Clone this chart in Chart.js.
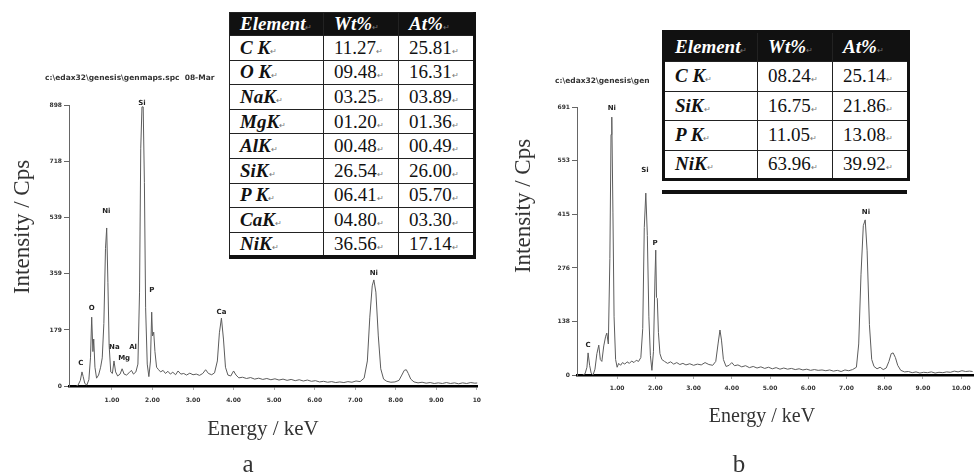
<!DOCTYPE html>
<html lang="en">
<head>
<meta charset="UTF-8">
<title>EDS spectra</title>
<style>
    body {
        margin: 0;
        background: #fff;
    }
    #page {
        position: relative;
        width: 977px;
        height: 473px;
        overflow: hidden;
        background: #fff;
    }
    canvas {
        position: absolute;
        top: 0;
    }
    .path {
        position: absolute;
        font: bold 7.5px "DejaVu Sans", sans-serif;
        color: #333;
        white-space: nowrap;
        overflow: hidden;
    }
    .title {
        position: absolute;
        font-family: "Liberation Serif", serif;
        color: #333;
        text-align: center;
        white-space: nowrap;
    }
    .ytitle {
        transform: rotate(-90deg);
    }
    table {
        position: absolute;
        border-collapse: collapse;
        table-layout: fixed;
        background: #fff;
        font-family: "Liberation Serif", serif;
        font-size: 19px;
        color: #111;
        z-index: 2;
    }
    td, th {
        border: 1px solid #222;
        padding: 0 0 0 10px;
        text-align: left;
        white-space: nowrap;
        overflow: hidden;
    }
    th {
        background: #111;
        color: #fff;
        font-style: italic;
        font-weight: bold;
    }
    td.el {
        font-style: italic;
        font-weight: bold;
    }
    .mark {
        font-size: 8px;
        color: #777;
        font-style: normal;
        font-weight: normal;
    }
    #tableA {
        left: 229px;
        top: 12px;
        border-right: 3px solid #111;
        border-bottom: 4px solid #111;
    }
    #tableB {
        left: 662px;
        top: 30px;
        border: 3px solid #111;
    }
    #ruleB {
        position: absolute;
        left: 662px;
        top: 190px;
        width: 245px;
        height: 4px;
        background: #111;
    }
    .side {
        position: absolute;
        left: 911px;
        font-size: 8px;
        color: #aaa;
    }
</style>
</head>
<body>
<div id="page">
    <canvas id="chartA" width="488" height="473" style="left:0"></canvas>
    <canvas id="chartB" width="487" height="473" style="left:490px"></canvas>

    <div class="path" style="left:45px; top:73px; width:183px;">c:\edax32\genesis\genmaps.spc&nbsp;&nbsp;08-Mar</div>
    <div class="path" style="left:555px; top:76px; width:101px;">c:\edax32\genesis\gen</div>

    <div class="title ytitle" style="left:-58px; top:213px; width:160px; font-size:23px; line-height:28px;">Intensity / Cps</div>
    <div class="title ytitle" style="left:443px; top:192px; width:160px; font-size:23px; line-height:28px;">Intensity / Cps</div>
    <div class="title" style="left:183px; top:415px; width:160px; font-size:21px; line-height:26px;">Energy / keV</div>
    <div class="title" style="left:682px; top:402px; width:160px; font-size:20px; line-height:26px;">Energy / keV</div>
    <div class="title" style="left:228px; top:449px; width:40px; font-size:25px; line-height:30px;">a</div>
    <div class="title" style="left:719px; top:449px; width:40px; font-size:25px; line-height:30px;">b</div>

    <table id="tableA"></table>
    <table id="tableB"></table>
    <div id="ruleB"></div>
</div>

<script src="https://cdn.jsdelivr.net/npm/chart.js"></script>
<script>
    // composition tables
    const tableHead = ['Element', 'Wt%', 'At%'];
    const elementsA = ['C K', 'O K', 'NaK', 'MgK', 'AlK', 'SiK', 'P K', 'CaK', 'NiK'];
    const wtA = ['11.27', '09.48', '03.25', '01.20', '00.48', '26.54', '06.41', '04.80', '36.56'];
    const atA = ['25.81', '16.31', '03.89', '01.36', '00.49', '26.00', '05.70', '03.30', '17.14'];
    const elementsB = ['C K', 'SiK', 'P K', 'NiK'];
    const wtB = ['08.24', '16.75', '11.05', '63.96'];
    const atB = ['25.14', '21.86', '13.08', '39.92'];

    // axis ticks
    const xTickValues = [1, 2, 3, 4, 5, 6, 7, 8, 9, 10];
    const yTicksA = [0, 179, 359, 539, 718, 898];
    const yTicksB = [0, 138, 276, 415, 553, 691];

    // spectrum a
    const energyA = [0.12, 0.16, 0.22, 0.26, 0.29, 0.33, 0.38, 0.43, 0.47, 0.50, 0.53, 0.55, 0.58, 0.62, 0.67,
        0.72, 0.76, 0.80, 0.84, 0.87, 0.90, 0.93, 0.97, 1.01, 1.05, 1.09, 1.14, 1.20, 1.25, 1.30,
        1.36, 1.42, 1.48, 1.53, 1.59, 1.64, 1.68, 1.71, 1.74, 1.77, 1.80, 1.83, 1.87, 1.91, 1.95,
        1.98, 2.00, 2.03, 2.06, 2.10, 2.15, 2.20, 2.26, 2.32, 2.38, 2.44, 2.50, 2.57, 2.63, 2.70,
        2.77, 2.84, 2.92, 3.00, 3.08, 3.16, 3.24, 3.31, 3.38, 3.46, 3.53, 3.60, 3.65, 3.70, 3.75,
        3.80, 3.86, 3.93, 4.00, 4.06, 4.13, 4.22, 4.32, 4.42, 4.52, 4.62, 4.72, 4.82, 4.92, 5.02,
        5.12, 5.22, 5.32, 5.42, 5.52, 5.62, 5.72, 5.82, 5.92, 6.02, 6.12, 6.22, 6.32, 6.42, 6.52,
        6.62, 6.72, 6.82, 6.92, 7.02, 7.12, 7.22, 7.30, 7.36, 7.42, 7.46, 7.51, 7.57, 7.63, 7.70,
        7.78, 7.88, 7.98, 8.08, 8.15, 8.21, 8.26, 8.31, 8.37, 8.45, 8.55, 8.65, 8.75, 8.85, 8.95,
        9.05, 9.15, 9.25, 9.35, 9.45, 9.55, 9.65, 9.75, 9.85, 9.95, 10.05];
    const countsA = [0, 2, 18, 45, 30, 8, 3, 20, 90, 220, 110, 150, 60, 25, 35,
        60, 90, 200, 440, 505, 330, 130, 45, 40, 80, 45, 32, 38, 55, 38,
        35, 42, 50, 38, 45, 70, 300, 760, 892, 892, 650, 250, 70, 30, 80,
        236, 160, 172, 110, 60, 52, 45, 50, 40, 47, 38, 44, 36, 48, 38,
        40, 35, 41, 36, 38, 34, 40, 52, 40, 36, 42, 80, 170, 217, 150,
        60, 35, 32, 48, 35, 26, 28, 24, 27, 22, 25, 21, 24, 20, 23,
        19, 22, 18, 21, 17, 20, 16, 19, 15, 17, 13, 15, 12, 14, 11,
        13, 11, 14, 12, 16, 14, 25, 80, 220, 320, 339, 300, 160, 55, 22,
        15, 12, 13, 18, 35, 50, 52, 40, 22, 13, 10, 12, 9, 11, 8,
        10, 8, 11, 8, 10, 7, 10, 8, 11, 9, 10];

    // spectrum b
    const energyB = [0.10, 0.16, 0.21, 0.24, 0.28, 0.32, 0.37, 0.42, 0.47, 0.52, 0.56, 0.60, 0.65, 0.70, 0.73,
        0.77, 0.81, 0.84, 0.86, 0.89, 0.92, 0.96, 1.00, 1.04, 1.09, 1.14, 1.20, 1.26, 1.32, 1.38,
        1.44, 1.50, 1.56, 1.62, 1.67, 1.71, 1.75, 1.79, 1.83, 1.87, 1.91, 1.95, 1.99, 2.01, 2.03,
        2.05, 2.08, 2.12, 2.17, 2.24, 2.32, 2.40, 2.48, 2.56, 2.64, 2.72, 2.80, 2.90, 3.00, 3.10,
        3.20, 3.30, 3.40, 3.50, 3.58, 3.64, 3.69, 3.73, 3.78, 3.85, 3.93, 4.00, 4.07, 4.16, 4.26,
        4.36, 4.46, 4.56, 4.66, 4.76, 4.86, 4.96, 5.06, 5.16, 5.26, 5.36, 5.46, 5.56, 5.66, 5.76,
        5.86, 5.96, 6.06, 6.16, 6.26, 6.36, 6.46, 6.56, 6.66, 6.76, 6.86, 6.96, 7.06, 7.16, 7.26,
        7.32, 7.38, 7.44, 7.49, 7.54, 7.60, 7.66, 7.72, 7.80, 7.88, 7.96, 8.04, 8.11, 8.17, 8.22,
        8.28, 8.34, 8.42, 8.52, 8.62, 8.72, 8.82, 8.92, 9.02, 9.12, 9.22, 9.32, 9.42, 9.52, 9.62,
        9.72, 9.82, 9.92, 10.02, 10.12, 10.22, 10.30];
    const countsB = [0, 3, 20, 57, 25, 5, 0, 15, 55, 77, 40, 35, 75, 100, 108,
        80, 300, 620, 665, 420, 150, 40, 20, 30, 25, 32, 28, 34, 30, 36,
        32, 38, 35, 45, 120, 380, 469, 360, 150, 50, 12, 60, 250, 322, 200,
        198, 110, 55, 40, 35, 30, 34, 28, 32, 27, 30, 26, 29, 25, 28,
        26, 32, 27, 25, 35, 80, 116, 90, 40, 22, 25, 32, 24, 26, 21,
        24, 19, 22, 18, 21, 17, 20, 16, 19, 15, 18, 15, 17, 14, 16,
        13, 15, 12, 14, 12, 13, 11, 13, 10, 12, 9, 13, 11, 14, 20,
        80, 260, 385, 400, 320, 130, 40, 22, 16, 20, 14, 18, 35, 55, 57,
        45, 25, 12, 8, 9, 6, 8, 5, 7, 6, 8, 5, 7, 6, 8,
        7, 10, 8, 11, 9, 10, 9];

    // peak labels: name, energy, label height in counts
    const peakNamesA = ['C', 'O', 'Ni', 'Na', 'Mg', 'Al', 'Si', 'P', 'Ca', 'Ni'];
    const peakEnergyA = [0.23, 0.50, 0.86, 1.06, 1.30, 1.52, 1.74, 1.98, 3.70, 7.46];
    const peakLabelA = [73, 249, 559, 125, 89, 125, 903, 307, 236, 361];
    const peakNamesB = ['C', 'Ni', 'Si', 'P', 'Ni'];
    const peakEnergyB = [0.24, 0.86, 1.73, 1.99, 7.51];
    const peakLabelB = [77, 688, 528, 340, 420];

    function buildTable(id, names, wt, at) {
        const table = document.getElementById(id);
        const mark = '<span class="mark">\u21b5</span>';
        let html = '<colgroup><col style="width:94px"><col style="width:75px"><col style="width:76px"></colgroup>';
        html += '<tr style="height:' + (id === 'tableA' ? 23 : 30) + 'px">';
        tableHead.forEach(h => { html += '<th>' + h + mark + '</th>'; });
        html += '</tr>';
        const rowH = id === 'tableA' ? 24.6 : 29.5;
        names.forEach((n, i) => {
            html += '<tr style="height:' + rowH + 'px"><td class="el">' + n + mark + '</td><td>' + wt[i] + mark + '</td><td>' + at[i] + mark + '</td></tr>';
        });
        table.innerHTML = html;
    }
    buildTable('tableA', elementsA, wtA, atA);
    buildTable('tableB', elementsB, wtB, atB);

    // draws the element names above the peaks
    const peakLabels = {
        id: 'peakLabels',
        afterDatasetsDraw(chart, args, opts) {
            const ctx = chart.ctx;
            const xs = chart.scales.x;
            const ys = chart.scales.y;
            ctx.save();
            ctx.font = 'bold 7px "DejaVu Sans", sans-serif';
            ctx.fillStyle = '#222';
            ctx.textAlign = 'center';
            ctx.textBaseline = 'middle';
            opts.names.forEach((n, i) => {
                ctx.fillText(n, xs.getPixelForValue(opts.energies[i]), ys.getPixelForValue(opts.heights[i]));
            });
            ctx.restore();
        }
    };

    function makeSpectrum(canvasId, energies, counts, cfg) {
        const points = energies.map((e, i) => ({ x: e, y: counts[i] }));
        return new Chart(document.getElementById(canvasId), {
            type: 'scatter',
            data: {
                datasets: [{
                    data: points,
                    showLine: true,
                    borderColor: '#5c5c5c',
                    borderWidth: 1,
                    pointRadius: 0,
                    tension: 0
                }]
            },
            options: {
                responsive: false,
                animation: false,
                layout: { padding: cfg.padding },
                plugins: {
                    legend: { display: false },
                    tooltip: { enabled: false },
                    peakLabels: cfg.labels
                },
                scales: {
                    x: {
                        type: 'linear',
                        min: cfg.xMin,
                        max: cfg.xMax,
                        afterBuildTicks: s => { s.ticks = xTickValues.map(v => ({ value: v })); },
                        afterFit: s => { s.height = 30; },
                        grid: { drawOnChartArea: false, drawTicks: true, tickLength: 4, color: '#aaa' },
                        border: { display: true, color: '#000', width: 2.5 },
                        ticks: {
                            padding: cfg.xPad,
                            maxRotation: 0,
                            autoSkip: false,
                            color: '#333',
                            font: { family: 'DejaVu Sans', size: 6, weight: 'bold' },
                            callback: cfg.xLabel
                        }
                    },
                    y: {
                        min: 0,
                        max: cfg.yMax,
                        afterBuildTicks: s => { s.ticks = cfg.yTicks.map(v => ({ value: v })); },
                        afterFit: s => { s.width = cfg.yWidth; },
                        grid: { drawOnChartArea: false, drawTicks: true, tickLength: 5, color: '#666' },
                        border: { display: true, color: '#666', width: 1 },
                        ticks: {
                            padding: 2,
                            color: '#333',
                            font: { family: 'DejaVu Sans', size: 6, weight: 'bold' }
                        }
                    }
                }
            },
            plugins: [peakLabels]
        });
    }

    makeSpectrum('chartA', energyA, countsA, {
        padding: { left: 0, top: 105, right: 4, bottom: 57 },
        xMin: -0.06, xMax: 10.01, xPad: 7, yMax: 898, yTicks: yTicksA, yWidth: 69,
        xLabel: v => (v === 10 ? '10' : v.toFixed(2)),
        labels: { names: peakNamesA, energies: peakEnergyA, heights: peakLabelA }
    });

    makeSpectrum('chartB', energyB, countsB, {
        padding: { left: 0, top: 107, right: 4, bottom: 68 },
        xMin: -0.05, xMax: 10.31, xPad: 6, yMax: 691, yTicks: yTicksB, yWidth: 87,
        xLabel: v => v.toFixed(2),
        labels: { names: peakNamesB, energies: peakEnergyB, heights: peakLabelB }
    });
</script>
</body>
</html>
